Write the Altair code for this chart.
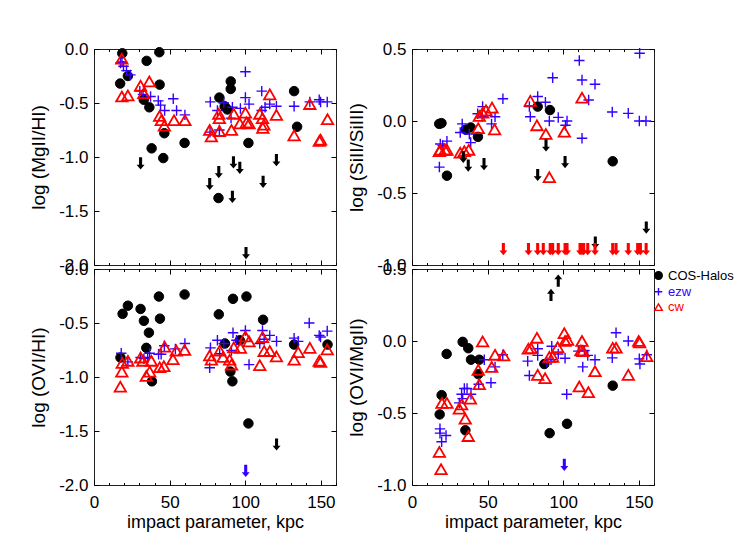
import altair as alt
import pandas as pd

FONT = "Liberation Sans"
BLUE = "#3300ff"
RED = "#ff0000"
SERIES = ["COS-Halos", "ezw", "cw"]
KEYS = ["k0", "k1", "k2"]

# ---------------- log (MgII/HI) ----------------
mg_cos_x = [18.7, 17.3, 22.4, 34.8, 43.2, 43.4, 32.9, 36.6, 46.5, 38.1, 45.8, 59.9, 82.9, 90.4, 90.4, 86.4, 88.2, 82.3, 102.1, 132.3, 134.3]
mg_cos_y = [-0.04, -0.32, -0.25, -0.11, -0.03, -0.33, -0.47, -0.54, -0.78, -0.92, -1.01, -0.87, -0.45, -0.30, -0.37, -0.53, -0.56, -1.38, -0.87, -0.39, -0.72]
mg_ezw_x = [17.5, 18.5, 19.5, 21.5, 24.0, 30.3, 32.4, 37.4, 42.5, 44.0, 46.7, 52.4, 54.6, 60.1, 76.9, 76.7, 82.9, 81.6, 85.8, 90.6, 91.5, 96.8, 100.1, 100.1, 102.5, 110.9, 110.9, 113.1, 116.2, 120.6, 132.3, 142.7, 148.9, 149.8, 154.2]
mg_ezw_y = [-0.13, -0.12, -0.16, -0.20, -0.24, -0.39, -0.42, -0.44, -0.48, -0.52, -0.57, -0.46, -0.57, -0.61, -0.49, -0.77, -0.75, -0.57, -0.50, -0.64, -0.54, -0.55, -0.21, -0.45, -0.51, -0.39, -0.57, -0.54, -0.51, -0.53, -0.53, -0.49, -0.47, -0.49, -0.49]
mg_cw_x = [18.4, 18.4, 22.4, 30.8, 36.6, 32.9, 43.4, 44.5, 46.5, 52.9, 60.1, 76.5, 77.6, 82.9, 82.5, 82.9, 90.9, 92.4, 96.4, 100.1, 100.8, 102.5, 109.6, 111.4, 112.3, 111.6, 116.2, 120.6, 132.3, 142.7, 149.8, 149.0, 154.4]
mg_cw_y = [-0.09, -0.44, -0.43, -0.34, -0.30, -0.41, -0.62, -0.66, -0.71, -0.66, -0.66, -0.75, -0.81, -0.76, -0.60, -0.64, -0.75, -0.60, -0.69, -0.59, -0.68, -0.69, -0.60, -0.64, -0.70, -0.73, -0.42, -0.61, -0.80, -0.51, -0.84, -0.85, -0.65]
mg_lim_x = [30.8, 82.5, 76.5, 92.2, 96.4, 91.5, 111.8, 120.6, 100.5]
mg_lim_y = [-1.06, -1.14, -1.25, -1.05, -1.10, -1.37, -1.23, -1.03, -1.89]
mg_lim_s = ["COS-Halos"] * 9
mg_lim_d = ["down"] * 9

# ---------------- log (SiII/SiIII) ----------------
si_cos_x = [18.0, 19.5, 23.1, 35.5, 38.8, 43.6, 83.1, 91.2, 132.7]
si_cos_y = [-0.02, -0.015, -0.38, -0.06, -0.045, -0.11, 0.10, 0.076, -0.28]
si_ezw_x = [18.7, 18.1, 20.3, 23.1, 33.2, 31.9, 37.9, 38.8, 46.7, 43.4, 46.3, 54.9, 52.6, 60.1, 77.6, 78.2, 83.1, 88.2, 90.8, 93.0, 96.7, 102.5, 101.5, 110.6, 112.4, 121.0, 116.8, 112.4, 132.4, 143.0, 150.3, 154.7, 150.5]
si_ezw_y = [-0.16, -0.32, -0.17, -0.14, -0.02, -0.08, -0.09, -0.15, 0.10, 0.05, 0.03, 0.03, -0.02, 0.155, 0.10, 0.03, 0.17, 0.13, 0.0, 0.30, 0.025, 0.0, -0.03, 0.42, 0.285, 0.255, 0.146, -0.12, 0.0625, 0.053, 0.0, 0.0, 0.47]
si_cw_x = [18.1, 18.7, 21.8, 23.1, 31.9, 34.6, 37.5, 43.8, 44.5, 46.7, 48.9, 52.9, 54.6, 78.2, 82.6, 88.5, 90.8, 100.7, 112.4]
si_cw_y = [-0.21, -0.20, -0.20, -0.20, -0.22, -0.21, -0.20, -0.05, 0.035, 0.058, 0.074, 0.093, -0.058, 0.14, -0.03, -0.09, -0.39, -0.074, 0.162]
si_lim_x = [33.9, 37.2, 47.6, 88.6, 83.1, 101.2, 121.2, 154.9,
            60.4, 77.0, 83.1, 86.8, 91.4, 93.0, 96.7, 101.2, 102.5, 111.1, 112.4, 113.5, 116.2, 121.0, 132.7, 134.9, 143.0, 149.2, 151.0, 154.8]
si_lim_y = [-0.25, -0.31, -0.30, -0.17, -0.375, -0.285, -0.845, -0.74] + [-0.89] * 20
si_lim_s = ["COS-Halos"] * 8 + ["cw"] * 20
si_lim_d = ["down"] * 28

# ---------------- log (OVI/HI) ----------------
oh_cos_x = [17.5, 18.9, 22.4, 30.8, 33.0, 36.3, 34.6, 38.3, 42.9, 43.6, 59.9, 82.5, 86.6, 91.9, 90.2, 91.5, 96.4, 100.8, 102.1, 111.8, 132.3, 154.4]
oh_cos_y = [-0.82, -0.415, -0.34, -0.37, -0.48, -0.59, -0.73, -1.04, -0.255, -0.46, -0.236, -0.42, -0.69, -0.276, -0.95, -1.04, -0.66, -0.255, -1.43, -0.47, -0.70, -0.70]
oh_ezw_x = [18.0, 22.4, 30.8, 33.0, 36.8, 35.5, 42.7, 44.4, 46.5, 53.8, 60.1, 77.0, 76.5, 81.6, 83.1, 85.8, 90.9, 91.9, 94.2, 100.1, 102.5, 109.6, 111.4, 112.5, 116.2, 120.7, 132.3, 135.0, 142.3, 148.9, 149.8, 154.2]
oh_ezw_y = [-0.78, -0.86, -0.82, -0.83, -0.78, -0.82, -0.79, -0.79, -0.71, -0.74, -0.69, -0.73, -0.915, -0.66, -0.785, -0.69, -0.755, -0.59, -0.66, -0.57, -0.885, -0.69, -0.57, -0.65, -0.615, -0.67, -0.64, -0.67, -0.50, -0.615, -0.63, -0.575]
oh_cw_x = [17.4, 18.4, 18.7, 22.4, 30.8, 32.3, 34.6, 36.8, 37.9, 43.4, 46.2, 46.7, 52.2, 54.4, 59.9, 76.5, 77.6, 83.1, 85.3, 89.7, 90.9, 92.4, 96.8, 100.1, 102.5, 109.6, 111.4, 112.5, 116.2, 120.6, 132.3, 135.0, 142.7, 148.9, 149.8, 154.2]
oh_cw_y = [-1.09, -0.95, -0.87, -0.85, -0.82, -0.85, -0.99, -0.95, -0.85, -0.91, -0.90, -0.72, -0.835, -0.755, -0.75, -0.80, -0.84, -0.755, -0.815, -0.84, -0.885, -0.725, -0.73, -0.625, -0.67, -0.89, -0.63, -0.76, -0.76, -0.81, -0.84, -0.77, -0.73, -0.85, -0.86, -0.745]
oh_lim_x = [120.7, 100.3]
oh_lim_y = [-1.625, -1.87]
oh_lim_s = ["COS-Halos", "ezw"]
oh_lim_d = ["down", "down"]

# ---------------- log (OVI/MgII) ----------------
om_cos_x = [22.9, 19.6, 18.3, 33.5, 37.2, 39.0, 44.5, 43.8, 35.3, 87.5, 91.0, 102.5, 132.7]
om_cos_y = [-0.09, -0.376, -0.51, -0.006, -0.05, -0.13, -0.13, -0.23, -0.62, -0.16, -0.64, -0.575, -0.31]
om_ezw_x = [18.5, 18.5, 22.5, 19.6, 31.3, 32.8, 34.6, 36.4, 39.0, 33.5, 44.1, 47.8, 52.2, 54.9, 60.0, 76.5, 77.6, 83.1, 83.1, 89.3, 92.4, 91.9, 96.7, 101.2, 102.3, 110.0, 112.9, 114.0, 116.2, 121.0, 132.4, 134.9, 143.0, 150.3, 150.7, 155.2]
om_ezw_y = [-0.61, -0.64, -0.656, -0.70, -0.43, -0.37, -0.33, -0.33, -0.37, -0.40, -0.30, -0.13, -0.29, -0.18, -0.096, -0.14, -0.24, -0.054, -0.10, -0.15, -0.036, -0.13, -0.09, -0.12, -0.37, -0.07, -0.18, -0.066, -0.10, -0.13, -0.117, 0.057, 0.0, -0.124, -0.16, -0.096]
om_cw_x = [18.1, 19.2, 19.8, 23.1, 31.3, 32.8, 35.2, 37.2, 38.6, 43.8, 44.5, 46.7, 52.7, 54.9, 60.6, 76.9, 78.7, 82.6, 83.1, 88.0, 90.8, 93.0, 96.3, 100.7, 102.9, 101.2, 110.6, 111.7, 112.4, 113.0, 116.6, 121.0, 132.7, 134.9, 143.0, 149.9, 150.5, 155.2]
om_cw_y = [-0.77, -0.89, -0.43, -0.43, -0.47, -0.44, -0.54, -0.66, -0.40, -0.20, -0.30, -0.003, -0.18, -0.096, -0.10, -0.054, -0.05, 0.022, -0.235, -0.258, -0.11, -0.11, -0.043, 0.054, 0.008, 0.0, -0.316, -0.066, 0.0, -0.07, -0.355, -0.21, -0.047, -0.047, -0.235, 0.0, -0.01, -0.105]
om_lim_x = [96.7, 91.9, 100.7]
om_lim_y = [0.42, 0.32, -0.86]
om_lim_s = ["COS-Halos", "COS-Halos", "ezw"]
om_lim_d = ["up", "up", "down"]

W, H = 242, 216
XTICKS = list(range(0, 161, 10))
XLABELS = [0, 50, 100, 150]
Y_HI = [-2.0, -1.5, -1.0, -0.5, 0.0]
Y_RAT = [-1.0, -0.5, 0.0, 0.5]

PLUS = "M-1,0H1M0,-1V1"
DOWN = "M-0.25,-1H0.25V0.2H0.65L0,1L-0.65,0.2H-0.25Z"
UP = "M-0.25,1H0.25V-0.2H0.65L0,-1L-0.65,-0.2H-0.25Z"
LABEL_EXPR = "(datum.value < 0 ? '-' : '') + format(abs(datum.value), '.1f')"
KEY_EXPR = "datum.series == 'COS-Halos' ? 'k0' : (datum.series == 'ezw' ? 'k1' : 'k2')"


def points_df(cx, cy, ex, ey, wx, wy):
    rows = []
    for name, xs, ys in (("COS-Halos", cx, cy), ("ezw", ex, ey), ("cw", wx, wy)):
        for a, b in zip(xs, ys):
            rows.append({"b": a, "v": b, "series": name})
    return pd.DataFrame(rows)


def limits_df(lx, ly, ls, ld):
    return pd.DataFrame({"b": lx, "v": ly, "series": ls, "dir": ld})


def panel(pts, lims, ydom, yticks, ytitle, xlabels, legend):
    xs = alt.Scale(domain=[0, 160], nice=False, zero=False)
    ys = alt.Scale(domain=ydom, nice=False, zero=False)
    if xlabels:
        xaxis = alt.Axis(values=XLABELS, ticks=False, domain=False, grid=False,
                         title="impact parameter, kpc", labelPadding=9, titlePadding=3,
                         labelFlush=False, labelOverlap=False, titleFontSize=18)
    else:
        xaxis = None
    yaxis = alt.Axis(values=yticks, ticks=False, domain=False, grid=False, title=ytitle,
                     labelExpr=LABEL_EXPR, labelPadding=6, titlePadding=10,
                     labelFlush=False, labelOverlap=False, titleFontSize=19)
    if legend:
        leg = alt.Legend(title=None, orient="right", offset=-3, padding=0,
                         labelFontSize=13, labelOffset=3, rowPadding=1.3,
                         symbolSize=56, symbolStrokeWidth=1.4,
                         labelColor=alt.ExprRef(expr="datum.label == 'ezw' ? '" + BLUE + "' : (datum.label == 'cw' ? '" + RED + "' : 'black')"))
    else:
        leg = None
    base_pts = alt.Chart(pts).mark_point(opacity=1).encode(
        x=alt.X("b:Q", scale=xs, axis=xaxis),
        y=alt.Y("v:Q", scale=ys, axis=yaxis),
        shape=alt.Shape("series:N", scale=alt.Scale(domain=SERIES, range=["circle", PLUS, "triangle-up"]), legend=leg),
        fill=alt.Fill("series:N", scale=alt.Scale(domain=SERIES, range=["black", "transparent", "transparent"]), legend=leg),
        stroke=alt.Stroke("series:N", scale=alt.Scale(domain=SERIES, range=["black", BLUE, RED]), legend=leg),
        size=alt.Size("key:N", scale=alt.Scale(domain=KEYS, range=[90, 130, 125]), legend=None),
        strokeWidth=alt.StrokeWidth("key:N", scale=alt.Scale(domain=KEYS, range=[1, 1.8, 1.0]), legend=None),
        order=alt.Order("ord:Q"),
    ).transform_calculate(
        ord="datum.series == 'COS-Halos' ? 0 : (datum.series == 'ezw' ? 1 : 2)",
        key=KEY_EXPR,
    )

    layers = [base_pts]
    for d, path in (("down", DOWN), ("up", UP)):
        sub = lims[lims["dir"] == d]
        if len(sub):
            layers.append(
                alt.Chart(sub).mark_point(filled=True, opacity=1, shape=path, size=150, strokeWidth=0).encode(
                    x=alt.X("b:Q", scale=xs, axis=None),
                    y=alt.Y("v:Q", scale=ys, axis=None),
                    color=alt.Color("key:N", scale=alt.Scale(domain=KEYS, range=["black", BLUE, RED]), legend=None),
                ).transform_calculate(key=KEY_EXPR)
            )

    tick_cond = {"condition": {"test": "datum.value % 50 === 0", "value": 5}, "value": 2.5}
    for ox, oy in (("top", "right"), ("bottom", "left")):
        layers.append(
            alt.Chart(pts).mark_point(opacity=0).encode(
                x=alt.X("b:Q", scale=xs, axis=alt.Axis(orient=ox, offset=-H, values=XTICKS, labels=False,
                                                      domain=False, grid=False, title=None, tickColor="black",
                                                      tickWidth=1, tickSize=tick_cond, minExtent=0, maxExtent=0)),
                y=alt.Y("v:Q", scale=ys, axis=alt.Axis(orient=oy, offset=-W, values=yticks, labels=False,
                                                      domain=False, grid=False, title=None, tickColor="black",
                                                      tickWidth=1, tickSize=5, minExtent=0, maxExtent=0)),
            )
        )
    return alt.layer(*layers).resolve_axis(x="independent", y="independent").properties(width=W, height=H)


tl = panel(points_df(mg_cos_x, mg_cos_y, mg_ezw_x, mg_ezw_y, mg_cw_x, mg_cw_y),
           limits_df(mg_lim_x, mg_lim_y, mg_lim_s, mg_lim_d), [-2.0, 0.0], Y_HI, "log (MgII/HI)", False, False)
tr = panel(points_df(si_cos_x, si_cos_y, si_ezw_x, si_ezw_y, si_cw_x, si_cw_y),
           limits_df(si_lim_x, si_lim_y, si_lim_s, si_lim_d), [-1.0, 0.5], Y_RAT, "log (SiII/SiIII)", False, False)
bl = panel(points_df(oh_cos_x, oh_cos_y, oh_ezw_x, oh_ezw_y, oh_cw_x, oh_cw_y),
           limits_df(oh_lim_x, oh_lim_y, oh_lim_s, oh_lim_d), [-2.0, 0.0], Y_HI, "log (OVI/HI)", True, False)
br = panel(points_df(om_cos_x, om_cos_y, om_ezw_x, om_ezw_y, om_cw_x, om_cw_y),
           limits_df(om_lim_x, om_lim_y, om_lim_s, om_lim_d), [-1.0, 0.5], Y_RAT, "log (OVI/MgII)", True, True)

chart = alt.concat(tl, tr, bl, br, columns=2, spacing={"row": 4, "column": 76}, bounds="flush").resolve_scale(
    shape="independent", fill="independent", stroke="independent", size="independent",
    strokeWidth="independent", color="independent"
).resolve_legend(
    shape="independent", fill="independent", stroke="independent", size="independent",
    strokeWidth="independent", color="independent"
).configure_view(
    stroke="#222222", strokeWidth=1
).configure_axis(
    labelFont=FONT, titleFont=FONT, labelColor="black", titleColor="black",
    labelFontSize=17, titleFontSize=18, titleFontWeight="normal"
).configure_legend(
    labelFont=FONT
).properties(
    padding={"left": 21, "top": 31, "right": 0, "bottom": 0},
    background="white"
)

chart.save("out.html", embed_options={"renderer": "svg", "actions": False})
